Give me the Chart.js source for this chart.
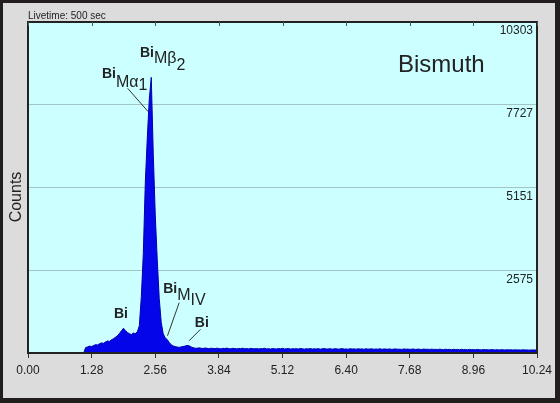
<!DOCTYPE html>
<html><head><meta charset="utf-8">
<script src="https://cdn.jsdelivr.net/npm/chart.js@4"></script>
<style>html,body{margin:0;padding:0;background:#dcdcdc;} canvas{display:block;}</style>
</head><body>
<canvas id="c" width="560" height="403"></canvas>
<script>
// ---- data ----
const channelStartKeV = 1.12;
const channelWidthKeV = 0.04;
const counts = [
  0,170,190,215,200,235,260,250,290,315,
  300,345,375,360,410,445,490,540,610,690,
  770,700,640,600,575,620,605,660,850,1750,
  3100,5300,6700,7900,8580,6200,4300,2900,1700,950,
  600,470,420,330,260,220,200,185,175,190,
  200,215,235,225,190,165,150,
  145,160,150,138,155,148,132,150,142,136,
  150,140,128,146,138,152,135,130,145,140,
  128,142,135,150,132,138,126,144,136,130,
  140,125,138,132,146,128,135,122,140,130,
  126,138,130,145,125,133,140,122,135,128,
  136,124,142,130,120,134,127,138,122,131,
  125,136,119,130,140,123,128,134,118,129,
  132,120,127,138,121,126,117,133,124,128,
  118,130,122,127,115,132,120,125,128,116,
  124,119,130,114,126,121,117,128,112,122,
  125,116,120,111,127,118,122,113,119,124,
  110,121,116,108,123,114,118,109,120,112,
  115,106,119,111,104,117,109,113,102,115,
  108,112,100,114,105,110,98,112,104,107,
  99,110,103,96,108,101,105,95,107,100,
  97,104,94,102,98,92,103,96,100,91,
  99,94,97,90,101,93,96,89,95,92,
  94,90
];
const xTickValues = [0.00,1.28,2.56,3.84,5.12,6.40,7.68,8.96,10.24];
const yTickValues = [2575,5151,7727,10303];
const xMin = 0, xMax = 10.24, yMin = 0, yMax = 10303;
const elementName = 'Bismuth';
const liveTimeText = 'Livetime: 500 sec';
const yTitle = 'Counts';

// peak annotations (anchored in data coordinates: keV, counts)
const peakLabels = [
  {at:[2.251,9214], parts:[['Bi','b',0],['Mβ','r',6],['2','r',13]]},
  {at:[1.487,8560], parts:[['Bi','b',0],['Mα','r',9],['1','r',12]], line:[[2.004,8239],[2.418,7511]]},
  {at:[2.719,1877], parts:[['Bi','b',0],['M','r',7],['IV','r',12]], line:[[3.041,1566],[2.807,538]]},
  {at:[1.728,1089], parts:[['Bi','b',0]]},
  {at:[3.356,819],  parts:[['Bi','b',0]], line:[[3.471,738],[3.242,383]]}
];

const points = counts.map((c,i)=>({x:+(channelStartKeV + i*channelWidthKeV).toFixed(2), y:c}));

const FONT = "'Liberation Sans', Arial, Helvetica, sans-serif";
Chart.defaults.font.family = FONT;

const decor = {
  id:'decor',
  beforeDraw(chart){
    const ctx = chart.ctx, W = chart.width, H = chart.height, a = chart.chartArea;
    ctx.save();
    ctx.fillStyle = '#221e1e';
    ctx.fillRect(0,0,W,H);
    ctx.fillStyle = '#dcdcdc';
    ctx.fillRect(3,3,W-3-5,H-3-5);
    ctx.fillStyle = '#ccffff';
    ctx.fillRect(a.left,a.top,a.right-a.left,a.bottom-a.top);
    ctx.restore();
  },
  afterDraw(chart){
    const ctx = chart.ctx, a = chart.chartArea;
    const xs = chart.scales.x, ys = chart.scales.y;
    ctx.save();
    // frame
    ctx.strokeStyle = '#222';
    ctx.lineWidth = 2;
    ctx.strokeRect(a.left, a.top, a.right-a.left, a.bottom-a.top);
    // inner ticks at top
    ctx.lineWidth = 1;
    ctx.strokeStyle = '#555';
    xTickValues.forEach(v=>{
      const px = Math.round(xs.getPixelForValue(v))+0.5;
      ctx.beginPath(); ctx.moveTo(px,a.top); ctx.lineTo(px,a.top+4); ctx.stroke();
    });
    // texts
    ctx.fillStyle = '#222';
    ctx.textBaseline = 'alphabetic';
    ctx.textAlign = 'left';
    ctx.font = '10px ' + FONT;
    ctx.fillText(liveTimeText, 28, 18.5);
    ctx.font = '24px ' + FONT;
    ctx.fillText(elementName, 398, 72);
    ctx.save();
    ctx.translate(21, 197);
    ctx.rotate(-Math.PI/2);
    ctx.textAlign = 'center';
    ctx.font = '16px ' + FONT;
    ctx.fillText(yTitle, 0, 0);
    ctx.restore();
    // peak labels
    peakLabels.forEach(p=>{
      let x = xs.getPixelForValue(p.at[0]);
      const y = ys.getPixelForValue(p.at[1]);
      p.parts.forEach(([t,st,dy])=>{
        ctx.font = (st==='b' ? 'bold 14px ' : '16px ') + FONT;
        ctx.fillText(t, x, y+dy);
        x += ctx.measureText(t).width;
      });
      if (p.line){
        ctx.strokeStyle = '#333';
        ctx.lineWidth = 1;
        ctx.beginPath();
        ctx.moveTo(xs.getPixelForValue(p.line[0][0]), ys.getPixelForValue(p.line[0][1]));
        ctx.lineTo(xs.getPixelForValue(p.line[1][0]), ys.getPixelForValue(p.line[1][1]));
        ctx.stroke();
      }
    });
    ctx.restore();
  }
};

new Chart(document.getElementById('c'), {
  type:'line',
  data:{datasets:[{
    data:points, fill:'origin', backgroundColor:'#0505ea', borderColor:'#0000b0',
    borderWidth:1, pointRadius:0, tension:0
  }]},
  options:{
    responsive:false, animation:false, devicePixelRatio:1,
    layout:{padding:{left:28, top:22, right:23, bottom:0}},
    plugins:{legend:{display:false}, tooltip:{enabled:false}},
    scales:{
      x:{
        type:'linear', min:xMin, max:xMax,
        afterBuildTicks:s=>{ s.ticks = xTickValues.map(v=>({value:v})); },
        afterFit:s=>{ s.height = 50; },
        ticks:{callback:v=>Number(v).toFixed(2), font:{size:12}, color:'#222', padding:5, maxRotation:0, autoSkip:false},
        grid:{drawOnChartArea:false, drawTicks:true, tickLength:5, color:'#333'},
        border:{display:false}
      },
      y:{
        position:'right', min:yMin, max:yMax,
        afterBuildTicks:s=>{ s.ticks = yTickValues.map(v=>({value:v})); },
        afterFit:s=>{ s.width = 0; },
        ticks:{mirror:true, padding:-4, labelOffset:9, font:{size:12}, color:'#222', callback:v=>String(v)},
        grid:{color:'#a2c4c4', drawTicks:false, lineWidth:1},
        border:{display:false}
      }
    }
  },
  plugins:[decor]
});
</script>
</body></html>
